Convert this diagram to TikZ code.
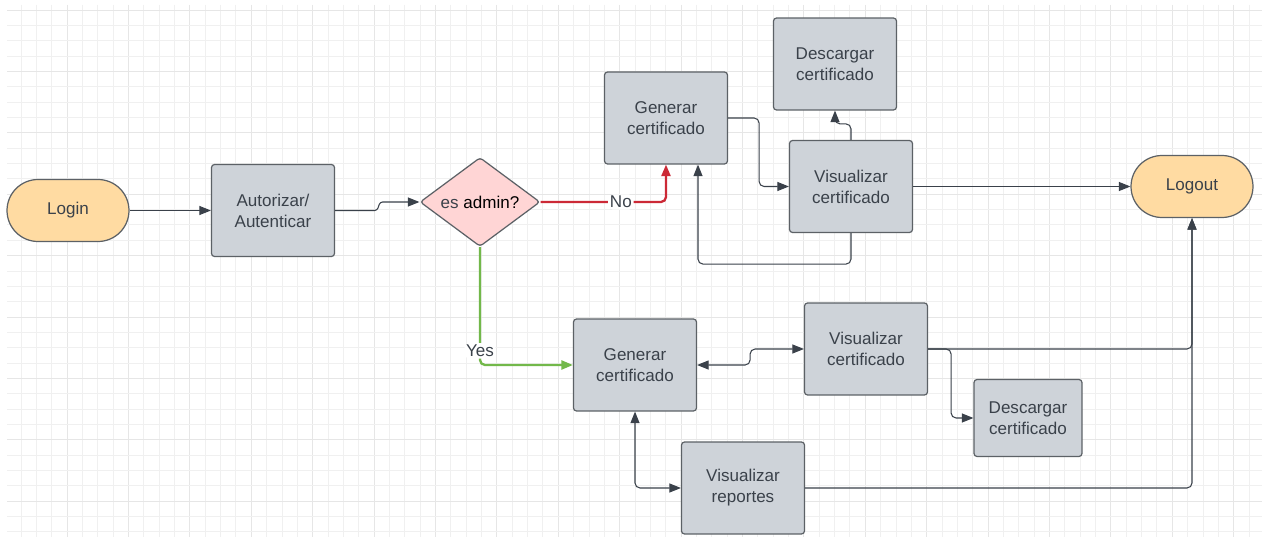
\documentclass[tikz,border=0pt]{standalone}
\usepackage{fontspec}
\setmainfont{Liberation Sans}
\usetikzlibrary{shapes.geometric,arrows.meta,calc}
\definecolor{boxfill}{HTML}{CED3D9}
\definecolor{boxdraw}{HTML}{5C6166}
\definecolor{peach}{HTML}{FFDBA2}
\definecolor{pinkfill}{HTML}{FFD5D5}
\definecolor{txt}{HTML}{3A414A}
\definecolor{lineclr}{HTML}{3A414A}
\definecolor{redline}{HTML}{CC2936}
\definecolor{greenline}{HTML}{72B84A}
\definecolor{gridminor}{HTML}{F0F0F0}
\definecolor{gridmajor}{HTML}{E6E6E6}
\tikzset{
  every node/.style={font=\fontsize{9.7}{12}\selectfont, text=txt, align=center},
  procbox/.style={draw=boxdraw, fill=boxfill, line width=0.7pt, rounded corners=0.06cm,
    minimum width=2.46cm, minimum height=1.84cm, inner sep=0pt},
  smallbox/.style={procbox, minimum width=2.16cm, minimum height=1.54cm},
  terminal/.style={draw=boxdraw, fill=peach, line width=0.7pt, rounded corners=0.62cm,
    minimum width=2.44cm, minimum height=1.24cm, inner sep=0pt},
  decision/.style={diamond, draw=boxdraw, fill=pinkfill, line width=0.7pt, rounded corners=0.06cm,
    minimum width=2.4cm, minimum height=1.78cm, aspect=1.35, inner sep=0pt},
  conn/.style={draw=lineclr, line width=0.6pt, rounded corners=0.1cm},
  arr/.style={conn, -{Triangle[length=0.23cm,width=0.18cm]}},
  darr/.style={conn, {Triangle[length=0.23cm,width=0.18cm]}-{Triangle[length=0.23cm,width=0.18cm]}},
  lbl/.style={fill=white, inner sep=1pt},
}
\begin{document}
\begin{tikzpicture}[x=0.02cm, y=-0.02cm]
\useasboundingbox (0,0) rectangle (1269,537);
\fill[white] (0,0) rectangle (1269,537);
% grid
\begin{scope}
\clip (7,5) rectangle (1262,537);
\foreach \i in {0,...,80} {
  \pgfmathtruncatemacro{\m}{mod(\i,4)}
  \ifnum\m=3 \def\gc{gridmajor}\else\def\gc{gridminor}\fi
  \draw[\gc, line width=0.5pt] ({21+15.35*\i},5) -- ({21+15.35*\i},537);
}
\foreach \j in {0,...,34} {
  \pgfmathtruncatemacro{\m}{mod(\j,4)}
  \ifnum\m=0 \def\gc{gridmajor}\else\def\gc{gridminor}\fi
  \draw[\gc, line width=0.5pt] (7,{10+15.35*\j}) -- (1262,{10+15.35*\j});
}
\end{scope}
% nodes
\node[terminal] (login) at (68,210.5) {Login};
\node[procbox] (auth) at (273,210.5) {Autorizar/\\Autenticar};
\node[decision] (dia) at (480,202) {es \textcolor{black}{admin?}};
\node[procbox] (gen1) at (666,118) {Generar\\certificado};
\node[procbox] (desc1) at (835,64) {Descargar\\certificado};
\node[procbox] (vis1) at (851,186.5) {Visualizar\\certificado};
\node[terminal] (logout) at (1192,186.5) {Logout};
\node[procbox] (gen2) at (635,365) {Generar\\certificado};
\node[procbox] (vis2) at (866,349) {Visualizar\\certificado};
\node[smallbox] (desc2) at (1028,418) {Descargar\\certificado};
\node[procbox] (rep) at (743,488) {Visualizar\\reportes};
% connectors
\draw[arr] (login) -- (auth);
\draw[arr, rounded corners=0.05cm] (auth.east) -- ($(auth.east)+(42,0)$) -- ($(auth.east)+(45,-8.5)$) -- (dia.west);
\draw[arr, draw=redline, line width=1.3pt] (dia.east) -| node[pos=0.32, lbl, text=txt] {No} (gen1.south);
\draw[arr, draw=greenline, line width=1.3pt] (dia.south) |- node[pos=0.44, lbl, text=txt] {Yes} (gen2.west);
\draw[arr] (gen1.east) -- ++(31,0) |- (vis1.west);
\draw[arr] (vis1.north) -- ++(0,-16) -| (desc1.south);
\draw[arr] (vis1.south) -- ++(0,31) -| ($(gen1.south)+(32,0)$);
\draw[arr] (vis1.east) -- (logout.west);
\draw[darr] (gen2.east) -- ++(53,0) |- (vis2.west);
\draw[arr] (vis2.east) -| (logout.south);
\draw[arr] (vis2.east) -- ++(23,0) |- (desc2.west);
\draw[darr] (gen2.south) |- (rep.west);
\draw[arr] (rep.east) -| (logout.south);
\end{tikzpicture}
\end{document}
